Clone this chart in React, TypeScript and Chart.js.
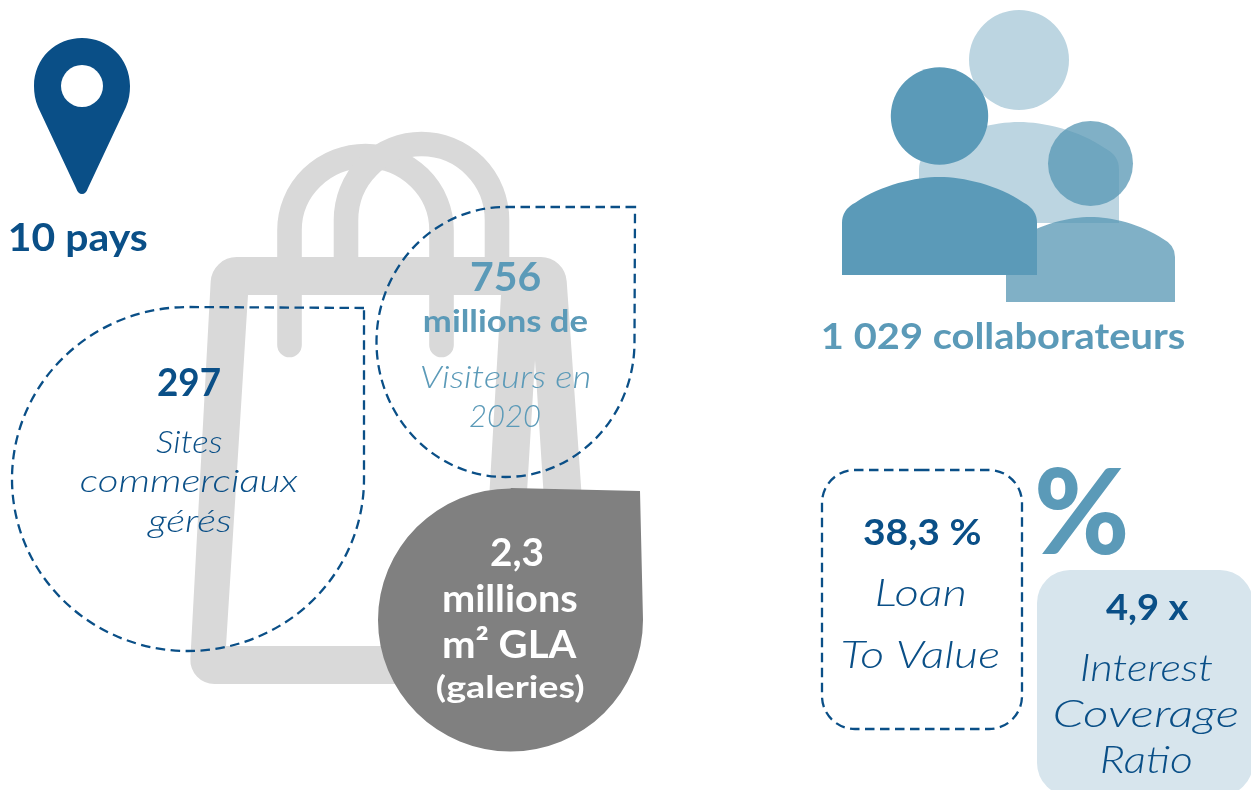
import React, { useEffect, useRef } from "react";
import { Chart, registerables } from "chart.js";

Chart.register(...registerables);

const WIDTH = 1251;
const HEIGHT = 790;

const countryLabels = ["10 pays"];
const siteLabels = ["297", "Sites", "commerciaux", "gérés"];
const visitorLabels = ["756", "millions de", "Visiteurs en", "2020"];
const surfaceLabels = ["2,3", "millions", "m² GLA", "(galeries)"];
const staffLabels = ["1 029 collaborateurs"];
const percentLabels = ["%"];
const ltvLabels = ["38,3 %", "Loan", "To Value"];
const icrLabels = ["4,9 x", "Interest", "Coverage", "Ratio"];

const NAVY = "#0a4f87";
const TEAL = "#5b9ab8";
const WHITE = "#ffffff";
const FAMILY = "Lato, 'Open Sans', sans-serif";

type Style = { size: number; weight: number; italic?: boolean; color: string };
const bold = (size: number, color: string): Style => ({ size, weight: 700, color });
const light = (size: number, color: string): Style => ({ size, weight: 300, italic: true, color });

// left, right, baseline of each text line
type Place = [number, number, number];
const textBlocks: { labels: string[]; places: Place[]; styles: Style[] }[] = [
  { labels: countryLabels, places: [[10, 147, 251]], styles: [bold(38, NAVY)] },
  {
    labels: siteLabels,
    places: [[158, 220, 396], [156, 222, 453], [81, 298, 492], [147, 231, 532]],
    styles: [bold(38, NAVY), light(32, NAVY), light(32, NAVY), light(32, NAVY)],
  },
  {
    labels: visitorLabels,
    places: [[471, 540, 291], [424, 588, 332], [421, 589, 388], [470, 540, 427]],
    styles: [bold(40, TEAL), bold(30, TEAL), light(31, TEAL), light(31, TEAL)],
  },
  {
    labels: surfaceLabels,
    places: [[491, 543, 566], [444, 577, 612], [444, 577, 658], [437, 584, 698]],
    styles: [bold(38, WHITE), bold(38, WHITE), bold(38, WHITE), bold(31, WHITE)],
  },
  { labels: staffLabels, places: [[823, 1185, 349]], styles: [bold(37, TEAL)] },
  { labels: percentLabels, places: [[1038, 1126, 554]], styles: [{ size: 118, weight: 900, color: TEAL }] },
  {
    labels: ltvLabels,
    places: [[864, 980, 545], [877, 965, 606], [843, 999, 668]],
    styles: [bold(37, NAVY), light(38, NAVY), light(38, NAVY)],
  },
  {
    labels: icrLabels,
    places: [[1106, 1189, 620], [1082, 1212, 681], [1055, 1238, 727], [1102, 1191, 773]],
    styles: [bold(37, NAVY), light(38, NAVY), light(38, NAVY), light(38, NAVY)],
  },
];

// Round marks: back head, front head, right head, pin hole
const circleCentres = [
  { x: 1019, y: 60 },
  { x: 939.5, y: 116 },
  { x: 1090.5, y: 163.5 },
  { x: 82, y: 86 },
];
const circleRadii = [50, 48.7, 42.5, 21];
const circleColours = ["#bcd5e1", "#5b9ab8", "rgba(86,150,179,0.75)", "#ffffff"];

const shapesPlugin = {
  id: "shapes",
  beforeDatasetsDraw(chart: any) {
    const { ctx, scales } = chart;
    const X = (v: number) => scales.x.getPixelForValue(v);
    const Y = (v: number) => scales.y.getPixelForValue(v);
    const M = (x: number, y: number) => ctx.moveTo(X(x), Y(y));
    const L = (x: number, y: number) => ctx.lineTo(X(x), Y(y));
    const A = (a: number, b: number, c: number, d: number, r: number) =>
      ctx.arcTo(X(a), Y(b), X(c), Y(d), r);
    const E = (cx: number, cy: number, rx: number, ry: number, s: number, e: number, ccw: boolean) =>
      ctx.ellipse(X(cx), Y(cy), rx, ry, 0, s, e, ccw);
    const C = (a: number, b: number, c: number, d: number, e: number, f: number) =>
      ctx.bezierCurveTo(X(a), Y(b), X(c), Y(d), X(e), Y(f));
    const Q = (a: number, b: number, c: number, d: number) =>
      ctx.quadraticCurveTo(X(a), Y(b), X(c), Y(d));

    ctx.save();

    // Shopping bag
    ctx.fillStyle = "#d9d9d9";
    ctx.strokeStyle = "#d9d9d9";
    ctx.lineWidth = 24.6;
    ctx.lineCap = "round";
    ctx.beginPath();
    M(289.5, 345);
    L(289.5, 230);
    E(365.5, 230, 76, 74, Math.PI, 0, false);
    L(441.5, 345);
    ctx.stroke();
    ctx.lineCap = "butt";
    ctx.beginPath();
    M(346, 262);
    L(346, 220);
    E(421.5, 220, 75.5, 76, Math.PI, 0, false);
    L(497, 262);
    ctx.stroke();

    ctx.beginPath();
    M(400, 684);
    A(189, 684, 212, 257, 24);
    A(212, 257, 565, 257, 26);
    A(565, 257, 582, 500, 26);
    L(582, 500);
    L(544, 500);
    L(535, 360);
    L(526.5, 500);
    L(489, 500);
    L(501, 295);
    L(248, 295);
    L(226, 646);
    L(400, 646);
    ctx.closePath();
    ctx.fill();

    // Grey drop
    ctx.fillStyle = "#808080";
    ctx.beginPath();
    M(640, 491);
    L(511, 488);
    E(510.5, 620, 132.5, 131.5, -Math.PI / 2, 0, true);
    ctx.closePath();
    ctx.fill();

    // Filled ratio card
    ctx.fillStyle = "#d7e5ed";
    ctx.beginPath();
    M(1100, 570);
    A(1253, 570, 1253, 800, 33);
    A(1253, 796, 1037, 796, 33);
    A(1037, 796, 1037, 570, 33);
    A(1037, 570, 1253, 570, 33);
    ctx.closePath();
    ctx.fill();

    // Dashed outlines
    ctx.strokeStyle = NAVY;
    ctx.lineWidth = 2.3;
    ctx.setLineDash([9.5, 5.5]);
    ctx.beginPath();
    M(364, 308);
    L(189, 307);
    E(188, 479, 176, 172, -Math.PI / 2, 0, true);
    ctx.closePath();
    ctx.stroke();
    ctx.beginPath();
    M(635, 207);
    L(506, 207);
    E(505.5, 342, 129, 135, -Math.PI / 2, 0, true);
    ctx.closePath();
    ctx.stroke();
    ctx.beginPath();
    M(920, 470);
    A(1022, 470, 1022, 729, 33);
    A(1022, 729, 822, 729, 33);
    A(822, 729, 822, 470, 33);
    A(822, 470, 1022, 470, 33);
    ctx.closePath();
    ctx.stroke();
    ctx.setLineDash([]);

    // Pin
    ctx.fillStyle = NAVY;
    ctx.beginPath();
    M(82, 194);
    Q(78, 194, 76, 188);
    L(38, 107);
    C(35, 100, 34, 93, 34, 86);
    C(34, 58, 56, 38, 82, 38);
    C(108, 38, 130, 58, 130, 86);
    C(130, 93, 129, 100, 126, 107);
    L(88, 188);
    Q(86, 194, 82, 194);
    ctx.closePath();
    ctx.fill();

    // People bodies
    const body = (x0: number, x1: number, top: number, bottom: number, fill: string) => {
      const w = x1 - x0;
      const h = bottom - top;
      const xc = (x0 + x1) / 2;
      ctx.fillStyle = fill;
      ctx.beginPath();
      M(x0, bottom);
      L(x0, top + 0.47 * h);
      Q(x0, top + 0.33 * h, x0 + 0.07 * w, top + 0.26 * h);
      C(x0 + 0.2 * w, top + 0.08 * h, x0 + 0.38 * w, top, xc, top);
      C(x1 - 0.38 * w, top, x1 - 0.2 * w, top + 0.08 * h, x1 - 0.07 * w, top + 0.26 * h);
      Q(x1, top + 0.33 * h, x1, top + 0.47 * h);
      L(x1, bottom);
      ctx.closePath();
      ctx.fill();
    };
    body(919, 1119, 122, 223, "#bcd5e1");
    body(1006, 1175, 217, 302, "rgba(86,150,179,0.75)");
    body(842, 1037, 177, 275, "#5b9ab8");

    ctx.restore();
  },
  afterDatasetsDraw(chart: any) {
    const { ctx, scales } = chart;
    ctx.save();
    ctx.textAlign = "center";
    ctx.textBaseline = "alphabetic";
    for (const block of textBlocks) {
      block.labels.forEach((label, i) => {
        const [left, right, base] = block.places[i];
        const s = block.styles[i];
        ctx.font = `${s.italic ? "italic " : ""}${s.weight} ${s.size}px ${FAMILY}`;
        ctx.fillStyle = s.color;
        const box = ctx.measureText(label);
        const inked = box.actualBoundingBoxLeft + box.actualBoundingBoxRight;
        const sx = (right - left) / inked;
        const px = scales.x.getPixelForValue((left + right) / 2);
        const py = scales.y.getPixelForValue(base);
        ctx.save();
        ctx.translate(px, py);
        ctx.scale(sx, 1);
        ctx.fillText(label, (box.actualBoundingBoxLeft - box.actualBoundingBoxRight) / 2, 0);
        ctx.restore();
      });
    }
    ctx.restore();
  },
};

export default function App() {
  const ref = useRef<HTMLCanvasElement>(null);
  useEffect(() => {
    if (!ref.current) return;
    const chart = new Chart(ref.current, {
      type: "scatter",
      data: {
        datasets: [
          {
            data: circleCentres,
            pointRadius: circleRadii,
            pointHoverRadius: circleRadii,
            pointBackgroundColor: circleColours,
            pointBorderWidth: 0,
            showLine: false,
            clip: false,
          } as any,
        ],
      },
      options: {
        animation: false,
        responsive: false,
        layout: { padding: 0, autoPadding: false },
        events: [],
        plugins: { legend: { display: false }, tooltip: { enabled: false } },
        scales: {
          x: { type: "linear", display: false, min: 0, max: WIDTH },
          y: { type: "linear", display: false, min: 0, max: HEIGHT, reverse: true },
        },
      },
      plugins: [shapesPlugin],
    });
    return () => chart.destroy();
  }, []);
  return (
    <canvas
      ref={ref}
      width={WIDTH}
      height={HEIGHT}
      style={{ position: "absolute", left: 0, top: 0, width: WIDTH, height: HEIGHT }}
    />
  );
}
